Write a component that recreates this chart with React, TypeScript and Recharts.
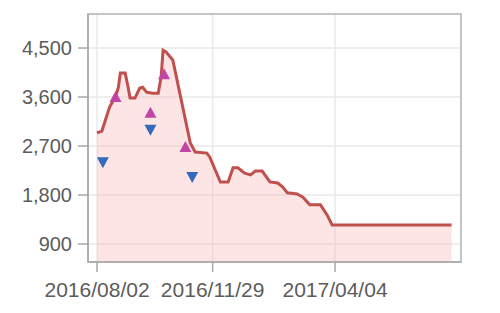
import React from 'react';
import {
  ComposedChart,
  Area,
  Scatter,
  XAxis,
  YAxis,
  CartesianGrid,
  ReferenceArea,
} from 'recharts';

// x values are day offsets from 2016/08/02
const lineDays = [0, 5, 13, 19, 22, 24, 29, 32, 34, 39, 44, 47, 51, 57, 63, 66, 68, 71, 78, 91, 96, 101, 113, 116, 127, 135, 140, 145, 152, 158, 163, 170, 178, 186, 191, 196, 206, 212, 219, 230, 237, 242, 365];
const lineValues = [2940, 2975, 3420, 3600, 3780, 4040, 4040, 3780, 3580, 3580, 3765, 3780, 3690, 3670, 3670, 3970, 4460, 4430, 4280, 3180, 2755, 2590, 2570, 2500, 2040, 2040, 2300, 2300, 2200, 2170, 2240, 2240, 2040, 2020, 1950, 1840, 1820, 1760, 1620, 1620, 1430, 1250, 1250];

const upDays = [19, 55, 69, 91];
const upValues = [3600, 3310, 4020, 2680];

const downDays = [6, 55, 98];
const downValues = [2400, 3000, 2130];

const xTickDays = [0, 119, 245];
const xTickLabels = ['2016/08/02', '2016/11/29', '2017/04/04'];
const yTicks = [900, 1800, 2700, 3600, 4500];

const lineData = lineDays.map((d, i) => ({ day: d, value: lineValues[i] }));
const upData = upDays.map((d, i) => ({ day: d, value: upValues[i] }));
const downData = downDays.map((d, i) => ({ day: d, value: downValues[i] }));

const X_DOMAIN: [number, number] = [-9.3, 374.7];
const Y_DOMAIN: [number, number] = [570, 5125];

const UpTriangle = (props: any) => {
  const { cx, cy } = props;
  if (cx == null || cy == null) return null;
  return (
    <path
      d={`M${cx},${cy - 6} L${cx + 6},${cy + 5} L${cx - 6},${cy + 5} Z`}
      fill="#c245a6"
    />
  );
};

const DownTriangle = (props: any) => {
  const { cx, cy } = props;
  if (cx == null || cy == null) return null;
  return (
    <path
      d={`M${cx - 6},${cy - 5} L${cx + 6},${cy - 5} L${cx},${cy + 6} Z`}
      fill="#3569bd"
    />
  );
};

const xTickStyle = { fontFamily: '"Liberation Sans", Arial, sans-serif', fontSize: 21, fill: '#5c5c5c' };
const yTickStyle = { fontFamily: '"Liberation Sans", Arial, sans-serif', fontSize: 20, fill: '#5c5c5c' };

export default function App() {
  return (
    <div style={{ position: 'absolute', left: 0, top: 0, width: 500, height: 313, background: '#fff' }}>
      <ComposedChart
        width={500}
        height={313}
        data={lineData}
        margin={{ top: 14, right: 39, bottom: 21, left: 0 }}
      >
        <CartesianGrid stroke="#e9e9e9" strokeWidth={1.5} />
        <ReferenceArea
          x1={X_DOMAIN[0]}
          x2={X_DOMAIN[1]}
          y1={Y_DOMAIN[0]}
          y2={Y_DOMAIN[1]}
          fill="none"
          stroke="#c4c4c4"
          strokeWidth={2}
          ifOverflow="visible"
        />
        <XAxis
          dataKey="day"
          type="number"
          domain={X_DOMAIN}
          allowDataOverflow
          ticks={xTickDays}
          tickFormatter={(v: number) => xTickLabels[xTickDays.indexOf(v)] ?? ''}
          height={30}
          tickSize={10}
          tickMargin={10}
          tick={xTickStyle}
          stroke="#a8a8a8"
          strokeWidth={1.5}
        />
        <YAxis
          type="number"
          domain={Y_DOMAIN}
          allowDataOverflow
          ticks={yTicks}
          tickFormatter={(v: number) => v.toLocaleString('en-US')}
          width={88}
          tickSize={10}
          tickMargin={6}
          tick={yTickStyle}
          stroke="#a8a8a8"
          strokeWidth={1.5}
        />
        <Area
          type="linear"
          dataKey="value"
          stroke="#c0504d"
          strokeWidth={3}
          fill="#f8b4b4"
          fillOpacity={0.35}
          dot={false}
          activeDot={false}
          isAnimationActive={false}
        />
        <Scatter data={upData} dataKey="value" shape={UpTriangle} isAnimationActive={false} />
        <Scatter data={downData} dataKey="value" shape={DownTriangle} isAnimationActive={false} />
      </ComposedChart>
    </div>
  );
}
